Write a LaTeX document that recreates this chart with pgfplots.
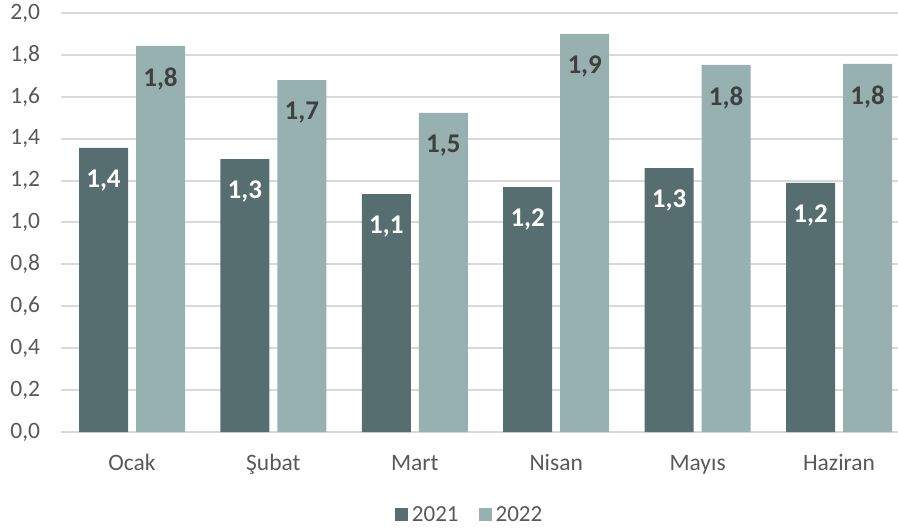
\documentclass[border=0pt]{standalone}
\usepackage{fontspec}
\setmainfont{Carlito}
\usepackage{pgfplots}
\pgfplotsset{compat=1.18}
\definecolor{c21}{HTML}{566E6F}
\definecolor{c22}{HTML}{97B1B1}
\definecolor{gridc}{HTML}{D9D9D9}
\definecolor{tickc}{HTML}{595959}
\definecolor{lab22}{HTML}{404040}

\begin{document}
\begin{tikzpicture}
\useasboundingbox (0bp,0bp) rectangle (898bp,530bp);
\begin{axis}[
  at={(61.3bp,98bp)}, anchor=south west,
  scale only axis, width=836.7bp, height=419bp,
  ybar=8bp, bar width=49bp,
  xmin=-0.5, xmax=5.417, ymin=0, ymax=2,
  axis line style={draw=none},
  major tick length=0pt,
  ymajorgrids, grid style={gridc, line width=2bp},
  xtick={0,1,2,3,4,5},
  xticklabels={Ocak,Şubat,Mart,Nisan,Mayıs,Haziran},
  ytick={0,0.2,0.4,0.6,0.8,1.0,1.2,1.4,1.6,1.8,2.0},
  yticklabel={\pgfmathprintnumber[fixed,fixed zerofill,precision=1,use comma,assume math mode=true]{\tick}},
  tick label style={font=\fontsize{23.5bp}{28bp}\selectfont, text=tickc},
  yticklabel style={anchor=east, inner sep=0pt, xshift=-21bp},
  xticklabel style={anchor=base, inner sep=0pt, yshift=-38bp},
  nodes near coords={\pgfmathprintnumber[fixed,fixed zerofill,precision=1,use comma,assume math mode=true]{\pgfplotspointmeta}},
  nodes near coords style={anchor=north, inner sep=0pt, yshift=-22bp, font=\bfseries\fontsize{27bp}{32bp}\selectfont},
  legend style={at={(0.488,-0.198)}, anchor=center, draw=none, legend columns=2,
    font=\fontsize{23bp}{27bp}\selectfont, text=tickc,
    /tikz/every odd column/.append style={column sep=2bp},
    /tikz/every even column/.append style={column sep=18bp}},
  legend image code/.code={\fill[#1] (0bp,-6.5bp) rectangle (13bp,6.5bp);},
]
\addplot[fill=c21, draw=none, every node near coord/.append style={text=white}]
coordinates {(0,1.356) (1,1.303) (2,1.136) (3,1.169) (4,1.260) (5,1.189)};
\addlegendentry{2021}
\addplot[fill=c22, draw=none, every node near coord/.append style={text=lab22}]
coordinates {(0,1.843) (1,1.680) (2,1.523) (3,1.900) (4,1.752) (5,1.757)};
\addlegendentry{2022}
\end{axis}
\end{tikzpicture}
\end{document}
